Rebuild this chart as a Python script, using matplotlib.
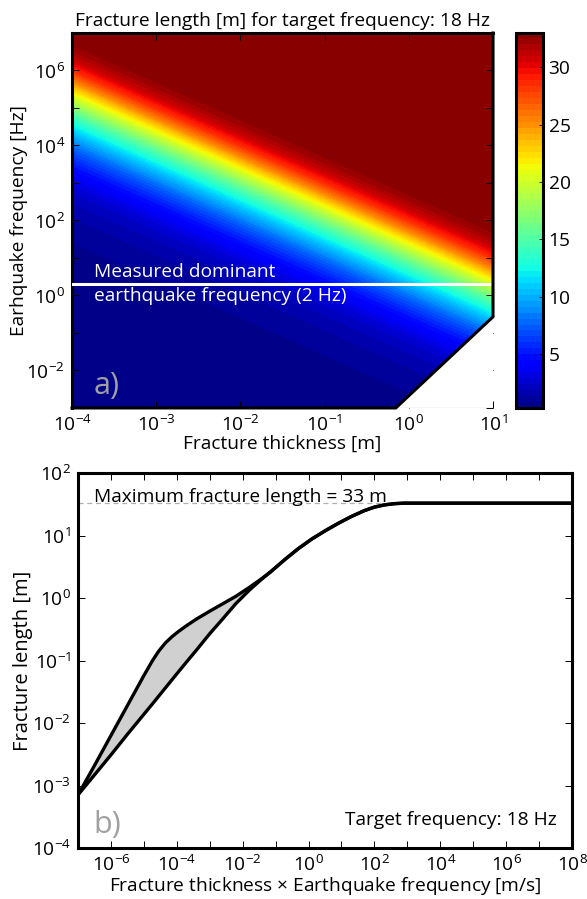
import numpy as np
import matplotlib
matplotlib.use('Agg')
import matplotlib.pyplot as plt
from matplotlib.ticker import FixedLocator, FuncFormatter, NullFormatter

fnt = 'Open Sans'
plt.rcParams['font.family'] = [fnt, 'DejaVu Sans']
plt.rcParams['mathtext.fontset'] = 'custom'
plt.rcParams['mathtext.rm'] = fnt
plt.rcParams['mathtext.it'] = fnt
plt.rcParams['mathtext.default'] = 'rm'
plt.rcParams['font.size'] = 13.8

# --- data (exponents of 10) ---
# panel b: fracture length vs thickness*frequency, upper and lower bound
tf_exp = [-7, -6.5, -6, -5.5, -5, -4.75, -4.55, -4.35, -4.15, -3.95, -3.7, -3.4, -3.0,
          -2.6, -2.2, -1.8, -1.45, -1.15, -0.7, -0.3, 0.1, 0.5, 0.9, 1.3, 1.7, 2.0, 2.3,
          2.6, 2.9, 8]
upper_exp = [-3.15, -2.68, -2.20, -1.72, -1.24, -1.01, -0.85, -0.72, -0.62, -0.535, -0.44,
             -0.335, -0.21, -0.09, 0.03, 0.17, 0.30, 0.42, 0.625, 0.795, 0.945, 1.075,
             1.195, 1.305, 1.40, 1.455, 1.49, 1.51, 1.518, 1.518]
lower_exp = [-3.15, -2.83, -2.51, -2.18, -1.86, -1.70, -1.57, -1.44, -1.31, -1.18, -1.02,
             -0.83, -0.57, -0.33, -0.085, 0.125, 0.29, 0.42, 0.625, 0.795, 0.945, 1.075,
             1.195, 1.305, 1.40, 1.455, 1.49, 1.51, 1.518, 1.518]
max_length = 33
target_freq = 18
measured_freq = 2
cbar_ticks = [5, 10, 15, 20, 25, 30]

# panel a: axis ranges and the lower-right cut-off of the valid region
thick_lim = [1e-4, 1e1]
freq_lim = [1e-3, 1e7]
cut_thick = [0.7, 10]
cut_freq = [1e-3, 0.27]

# decades that get a tick, and which of them get a label
a_x_labeled = [-4, -3, -2, -1, 0, 1]
a_y_labeled = [-2, 0, 2, 4, 6]
a_y_unlabeled = [-3, -1, 1, 3, 5, 7]
b_x_labeled = [-6, -4, -2, 0, 2, 4, 6, 8]
b_x_unlabeled = [-7, -5, -3, -1, 1, 3, 5, 7]
b_y_labeled = [-4, -3, -2, -1, 0, 1, 2]

tf = 10 ** np.array(tf_exp)
upper = 10 ** np.array(upper_exp)
lower = 10 ** np.array(lower_exp)

fig = plt.figure(figsize=(5.87, 8.99), dpi=100)
ax1 = fig.add_axes([0.1227, 0.5462, 0.7172, 0.4171])
cax = fig.add_axes([0.879, 0.5462, 0.046, 0.4171])
ax2 = fig.add_axes([0.1329, 0.0567, 0.8416, 0.4171])

# ---- panel a ----
t = np.logspace(np.log10(thick_lim[0]), np.log10(thick_lim[1]), 400)
f = np.logspace(np.log10(freq_lim[0]), np.log10(freq_lim[1]), 400)
T, F = np.meshgrid(t, f)
field = 10 ** np.interp(np.log10(T * F), tf_exp, upper_exp)
field = np.clip(field, 0.3, 33.0)
levels = np.linspace(0.3, 33.05, 64)
cs = ax1.contourf(T, F, field, levels=levels, cmap='jet')
ax1.set_xscale('log')
ax1.set_yscale('log')
ax1.set_xlim(thick_lim)
ax1.set_ylim(freq_lim)

# white triangle + black edge for the cut corner
ax1.fill([cut_thick[0], cut_thick[1], cut_thick[1]], [cut_freq[0], cut_freq[1], cut_freq[0]],
         color='white', zorder=2, lw=0)
ax1.spines['right'].set_visible(False)
ax1.spines['bottom'].set_visible(False)
ax1.plot([thick_lim[0], cut_thick[0], cut_thick[1], cut_thick[1]],
         [freq_lim[0], cut_freq[0], cut_freq[1], freq_lim[1]],
         color='black', lw=2.2, clip_on=False, zorder=5, solid_joinstyle='miter')

ax1.axhline(measured_freq, color='white', lw=2.2, zorder=4)
ax1.text(1.8e-4, 2.4, 'Measured dominant', color='white', va='bottom', ha='left')
ax1.text(1.8e-4, 1.65, 'earthquake frequency (2 Hz)', color='white', va='top', ha='left')
ax1.text(0.052, 0.036, 'a)', transform=ax1.transAxes, color='#a0a0a0', fontsize=22,
         va='baseline')

ax1.set_title('Fracture length [m] for target frequency: %d Hz' % target_freq,
              fontsize=13.8, pad=5)
ax1.set_xlabel('Fracture thickness [m]', labelpad=0)
ax1.set_ylabel('Earhquake frequency [Hz]', labelpad=-1)

cb = fig.colorbar(cs, cax=cax, ticks=cbar_ticks)
cb.outline.set_linewidth(2.2)
cax.tick_params(direction='in', length=3, width=0.6, labelsize=13.8, pad=4)
cax.set_ylim(0.3, 33)

# ---- panel b ----
ax2.fill_between(tf, lower, upper, color='#d0d0d0', lw=0)
ax2.plot(tf, upper, color='black', lw=2.4, solid_joinstyle='round')
ax2.plot(tf, lower, color='black', lw=2.4, solid_joinstyle='round')
ax2.plot([1e-7, 1e3], [max_length, max_length], color='#b0b0b0', lw=0.9, dashes=(4, 3),
         zorder=1)
ax2.set_xscale('log')
ax2.set_yscale('log')
ax2.set_xlim(1e-7, 1e8)
ax2.set_ylim(1e-4, 1e2)
ax2.text(10 ** -6.5, max_length * 1.05, 'Maximum fracture length = %d m' % max_length,
         va='baseline', ha='left')
ax2.text(0.97, 0.061, 'Target frequency: %d Hz' % target_freq, transform=ax2.transAxes,
         ha='right', va='baseline')
ax2.text(0.032, 0.04, 'b)', transform=ax2.transAxes, color='#a0a0a0', fontsize=22,
         va='baseline')
ax2.set_xlabel(r'Fracture thickness $\times$ Earthquake frequency [m/s]', labelpad=0)
ax2.set_ylabel('Fracture length [m]', labelpad=-1, fontsize=14.5)

pow_fmt = FuncFormatter(lambda v, p: r'$10^{%d}$' % int(round(np.log10(v))))


def set_decades(axis, labeled, unlabeled):
    axis.set_major_locator(FixedLocator([10.0 ** e for e in labeled]))
    axis.set_minor_locator(FixedLocator([10.0 ** e for e in unlabeled]))
    axis.set_major_formatter(pow_fmt)
    axis.set_minor_formatter(NullFormatter())


set_decades(ax1.xaxis, a_x_labeled, [])
set_decades(ax1.yaxis, a_y_labeled, a_y_unlabeled)
set_decades(ax2.xaxis, b_x_labeled, b_x_unlabeled)
set_decades(ax2.yaxis, b_y_labeled, [])

for ax in [ax1, ax2]:
    ax.tick_params(which='both', direction='in', top=True, right=True, length=5, width=0.7,
                   labelsize=13.8, pad=5)

for sp in ax2.spines.values():
    sp.set_linewidth(2.2)
for name in ['left', 'top']:
    ax1.spines[name].set_linewidth(2.2)

fig.savefig('out.png', dpi=100)
